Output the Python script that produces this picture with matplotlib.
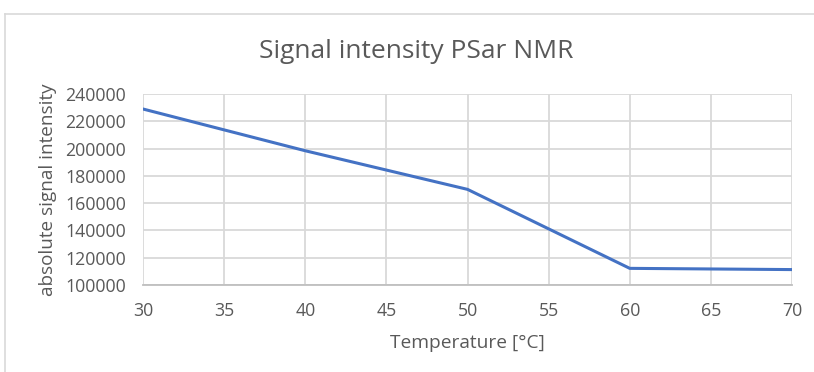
import matplotlib
matplotlib.use("Agg")
import matplotlib.pyplot as plt
from matplotlib.lines import Line2D

temperature = [30, 40, 50, 60, 70]
intensity = [229000, 198400, 170100, 112200, 111300]
x_ticks = [30, 35, 40, 45, 50, 55, 60, 65, 70]
y_ticks = [100000, 120000, 140000, 160000, 180000, 200000, 220000, 240000]

plt.rcParams['font.family'] = ['Open Sans', 'DejaVu Sans']
txt = '#595959'
grid = '#D9D9D9'

fig = plt.figure(figsize=(8.14, 3.72), dpi=100)
W, H = 814, 372
ax = fig.add_axes([143 / W, 1 - 285 / H, (792 - 143) / W, (285 - 94) / H])

ax.plot(temperature, intensity, color='#4472C4', lw=2.2, solid_capstyle='round', zorder=3)
ax.set_xlim(30, 70)
ax.set_ylim(100000, 240000)
ax.set_xticks(x_ticks)
ax.set_yticks(y_ticks)
ax.set_xticklabels([str(v) for v in x_ticks])
ax.set_yticklabels([str(v) for v in y_ticks])
ax.grid(True, color=grid, lw=1.3)
ax.set_axisbelow(True)
for s in ['top', 'right', 'left']:
    ax.spines[s].set_visible(False)
ax.spines['bottom'].set_color('#BFBFBF')
ax.spines['bottom'].set_linewidth(1.3)
ax.tick_params(axis='both', length=0, labelsize=12.8, colors=txt)
ax.tick_params(axis='x', pad=12)
ax.tick_params(axis='y', pad=12)
for lab in ax.get_xticklabels() + ax.get_yticklabels():
    lab.set_color(txt)

ax.set_xlabel('Temperature [°C]', fontsize=13.8, color=txt, labelpad=10)
ax.set_ylabel('absolute signal intensity', fontsize=13.6, color=txt, labelpad=6)

fig.text(416 / W, 1 - 51 / H, 'Signal intensity PSar NMR', ha='center', va='center',
         fontsize=19, color=txt)

# chart area border
fig.add_artist(Line2D([5 / W, 5 / W], [0, 1 - 14 / H], transform=fig.transFigure, color='#D9D9D9', lw=1.2))
fig.add_artist(Line2D([5 / W, 1], [1 - 14 / H, 1 - 14 / H], transform=fig.transFigure, color='#D9D9D9', lw=1.2))

fig.savefig('out.png', dpi=100)
